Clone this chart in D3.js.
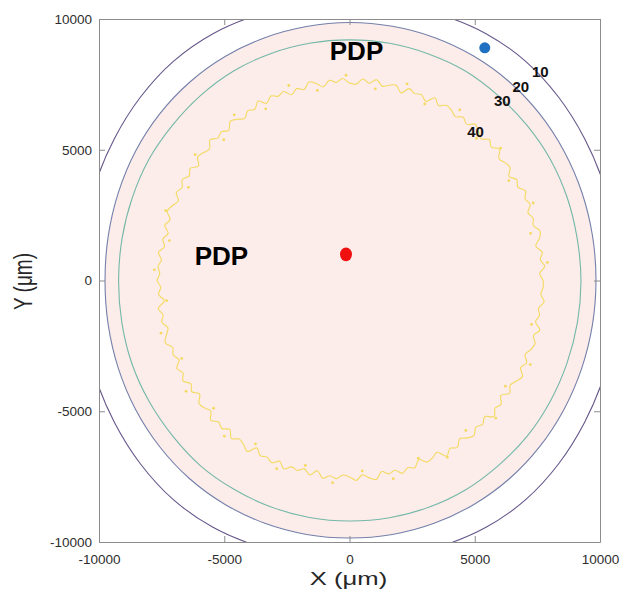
<!DOCTYPE html>
<html>
<head>
<meta charset="utf-8">
<script src="https://cdn.jsdelivr.net/npm/d3@7"></script>
<style>
  body { margin: 0; background: #fff; }
  text { font-family: "Liberation Sans", Arial, sans-serif; }
</style>
</head>
<body>
<svg id="chart" width="623" height="599"></svg>
<script>
////////////////////////////////////////////////////////////////////////
// Data (all in µm)

let xTicks = [-10000, -5000, 0, 5000, 10000];
let yTicks = [-10000, -5000, 0, 5000, 10000];
let levels = ["10", "20", "30", "40"];

// contour radius, one value every 10 degrees, counterclockwise from +x
let radius10 = [10790, 10790, 10800, 10840, 10900, 10940, 10900, 10800, 10730,
                10700, 10720, 10800, 10900, 10940, 10900, 10840, 10800, 10790,
                10780, 10790, 10800, 10840, 10900, 10940, 10900, 10800, 10730,
                10700, 10720, 10800, 10900, 10940, 10900, 10840, 10800, 10790];
let radius20 = [9840, 9850, 9870, 9890, 9910, 9920, 9910, 9890, 9870,
                9866, 9860, 9880, 9900, 9910, 9900, 9870, 9820, 9780,
                9760, 9780, 9820, 9860, 9890, 9910, 9900, 9880, 9860,
                9847, 9860, 9880, 9900, 9910, 9900, 9880, 9860, 9845];
let radius30 = [9240, 9230, 9250, 9260, 9240, 9230, 9250, 9220, 9210,
                9200, 9210, 9230, 9250, 9240, 9230, 9250, 9230, 9220,
                9218, 9230, 9250, 9240, 9230, 9250, 9220, 9210, 9200,
                9197, 9210, 9230, 9250, 9240, 9260, 9250, 9240, 9240];
// level 40 is noisy, one value every 2 degrees
let radius40 = [
  7730, 7600, 7810, 7660, 7770, 7550, 7750, 7840, 7630, 7710, 7580, 7780, 7670, 7820, 7610,
  7710, 7510, 7730, 7670, 7570, 7820, 7620, 7760, 7540, 7690, 7800, 7590, 7720, 7560, 7680,
  7735, 7575, 7775, 7495, 7665, 7605, 7715, 7465, 7695, 7635, 7545, 7755, 7585, 7725, 7515,
  7550, 7730, 7590, 7700, 7480, 7650, 7760, 7520, 7640, 7470, 7690, 7600, 7720, 7540, 7770,
  7560, 7660, 7480, 7620, 7730, 7500, 7650, 7570, 7740, 7520, 7610, 7690, 7450, 7670, 7550,
  7710, 7570, 7690, 7480, 7630, 7740, 7530, 7670, 7460, 7620, 7500, 7700, 7550, 7660, 7580,
  7680, 7540, 7640, 7430, 7710, 7560, 7660, 7470, 7610, 7730, 7510, 7590, 7450, 7670, 7530,
  7675, 7465, 7595, 7395, 7625, 7575, 7455, 7695, 7525, 7615, 7435, 7665, 7495, 7565, 7705,
  7395, 7585, 7515, 7625, 7455, 7665, 7495, 7555, 7425, 7605, 7385, 7635, 7505, 7595, 7445,
  7510, 7650, 7450, 7590, 7680, 7420, 7560, 7480, 7670, 7530, 7620, 7390, 7600, 7550, 7440,
  7760, 7570, 7700, 7480, 7640, 7730, 7540, 7650, 7500, 7770, 7590, 7680, 7470, 7710, 7560,
  7690, 7820, 7600, 7740, 7560, 7710, 7790, 7640, 7830, 7590, 7700, 7620, 7810, 7660, 7730];

// small closed level-40 islands: angle (deg), radius
let speckAngle  = [5, 14, 22, 31, 40, 47, 56, 66, 73, 82, 91, 100, 108, 117, 126, 133, 142, 151, 160, 168,
                   177, 186, 195, 204, 213, 222, 230, 239, 248, 256, 265, 274, 283, 292, 300, 309, 318, 327, 336, 347];
let speckRadius = [7930, 7450, 7910, 7420, 7880, 7430, 7870, 7390, 7860, 7400, 7850, 7380, 7840, 7370, 7830, 7360, 7820, 7350, 7810, 7350,
                   7800, 7340, 7790, 7330, 7780, 7300, 7770, 7290, 7760, 7290, 7760, 7300, 7780, 7330, 7810, 7380, 7860, 7420, 7900, 7460];

// measurement points
let bluePoint = [5400, 8900];
let redPoint = [-140, 1000];

////////////////////////////////////////////////////////////////////////
// Layout

let svg = d3.select("#chart");
let plotLeft = 99, plotRight = 600, plotTop = 19, plotBottom = 542;

let x = d3.scaleLinear().domain([-10000, 10000]).range([plotLeft, plotRight]);
let y = d3.scaleLinear().domain([-10000, 10000]).range([plotBottom, plotTop]);

svg.append("clipPath").attr("id", "clip")
  .append("rect")
  .attr("x", plotLeft).attr("y", plotTop)
  .attr("width", plotRight - plotLeft).attr("height", plotBottom - plotTop);

let plot = svg.append("g").attr("clip-path", "url(#clip)");

// turn a radius list into [x, y] data points
function ring(radii) {
  let step = 2 * Math.PI / radii.length;
  return radii.map((r, i) => [r * Math.cos(i * step), r * Math.sin(i * step)]);
}

let smooth = d3.line().x(d => x(d[0])).y(d => y(d[1])).curve(d3.curveCatmullRomClosed);

// pink region inside level 20
plot.append("path")
  .attr("d", smooth(ring(radius20)))
  .attr("fill", "#fcecea");

let lineColors = ["#66578a", "#7480aa", "#74b8a8", "#f4da60"];
let rings = [radius10, radius20, radius30, radius40];
rings.forEach((r, i) => {
  plot.append("path")
    .attr("d", smooth(ring(r)))
    .attr("fill", "none")
    .attr("stroke", lineColors[i])
    .attr("stroke-width", 1.1)
    .attr("stroke-linejoin", "round");
});

plot.selectAll(".speck")
  .data(speckAngle)
  .enter()
  .append("circle")
  .attr("class", "speck")
  .attr("cx", (a, i) => x(speckRadius[i] * Math.cos(a * Math.PI / 180)))
  .attr("cy", (a, i) => y(speckRadius[i] * Math.sin(a * Math.PI / 180)))
  .attr("r", 1.4)
  .attr("fill", lineColors[3])
  .attr("stroke", "none");

////////////////////////////////////////////////////////////////////////
// Axes (MATLAB style box, ticks inward)

function styleAxis(g) {
  g.select(".domain").attr("stroke", "#8c8c8c");
  g.selectAll(".tick line").attr("stroke", "#8c8c8c");
  g.selectAll(".tick text")
    .attr("fill", "#2e2e2e")
    .style("font-size", "13.5px")
    .style("font-family", "'Liberation Sans', Arial, sans-serif");
}

let plain = d => String(d);

svg.append("g")
  .attr("transform", "translate(0," + plotBottom + ")")
  .call(d3.axisBottom(x).tickValues(xTicks).tickFormat(plain).tickSizeInner(-6).tickSizeOuter(0).tickPadding(12))
  .call(styleAxis);
svg.append("g")
  .attr("transform", "translate(" + plotLeft + ",0)")
  .call(d3.axisLeft(y).tickValues(yTicks).tickFormat(plain).tickSizeInner(-6).tickSizeOuter(0).tickPadding(7))
  .call(styleAxis);
svg.append("g")
  .attr("transform", "translate(0," + plotTop + ")")
  .call(d3.axisTop(x).tickValues(xTicks).tickSizeInner(-6).tickSizeOuter(0).tickFormat(""))
  .call(styleAxis);
svg.append("g")
  .attr("transform", "translate(" + plotRight + ",0)")
  .call(d3.axisRight(y).tickValues(yTicks).tickSizeInner(-6).tickSizeOuter(0).tickFormat(""))
  .call(styleAxis);

// axis titles, stretched sideways like the reference
svg.append("text")
  .attr("transform", "translate(348.5,584.5) scale(1.35,1)")
  .attr("text-anchor", "middle")
  .attr("fill", "#262626")
  .style("font-size", "19px")
  .text("X (μm)");
svg.append("text")
  .attr("transform", "translate(32,281.5) scale(1.35,1) rotate(-90)")
  .attr("text-anchor", "middle")
  .attr("fill", "#262626")
  .style("font-size", "19px")
  .text("Y (μm)");

////////////////////////////////////////////////////////////////////////
// Annotations

svg.append("circle")
  .attr("cx", x(bluePoint[0])).attr("cy", y(bluePoint[1]))
  .attr("r", 5.5)
  .attr("fill", "#1f70c1");
svg.append("ellipse")
  .attr("cx", x(redPoint[0])).attr("cy", y(redPoint[1]))
  .attr("rx", 6).attr("ry", 6.8)
  .attr("fill", "#f01010");

let pdpX = [280, -5110];
let pdpY = [8450, 590];
pdpX.forEach((px, i) => {
  svg.append("text")
    .attr("x", x(px)).attr("y", y(pdpY[i]))
    .attr("text-anchor", "middle")
    .style("font-size", "26px")
    .style("font-weight", "bold")
    .attr("fill", "#000")
    .text("PDP");
});

let levelLabelX = [7620, 6840, 6100, 5030];
let levelLabelY = [7790, 7200, 6670, 5480];
levels.forEach((t, i) => {
  svg.append("text")
    .attr("x", x(levelLabelX[i])).attr("y", y(levelLabelY[i]))
    .attr("text-anchor", "middle")
    .style("font-size", "15px")
    .style("font-weight", "bold")
    .attr("fill", "#111")
    .text(t);
});
</script>
</body>
</html>
